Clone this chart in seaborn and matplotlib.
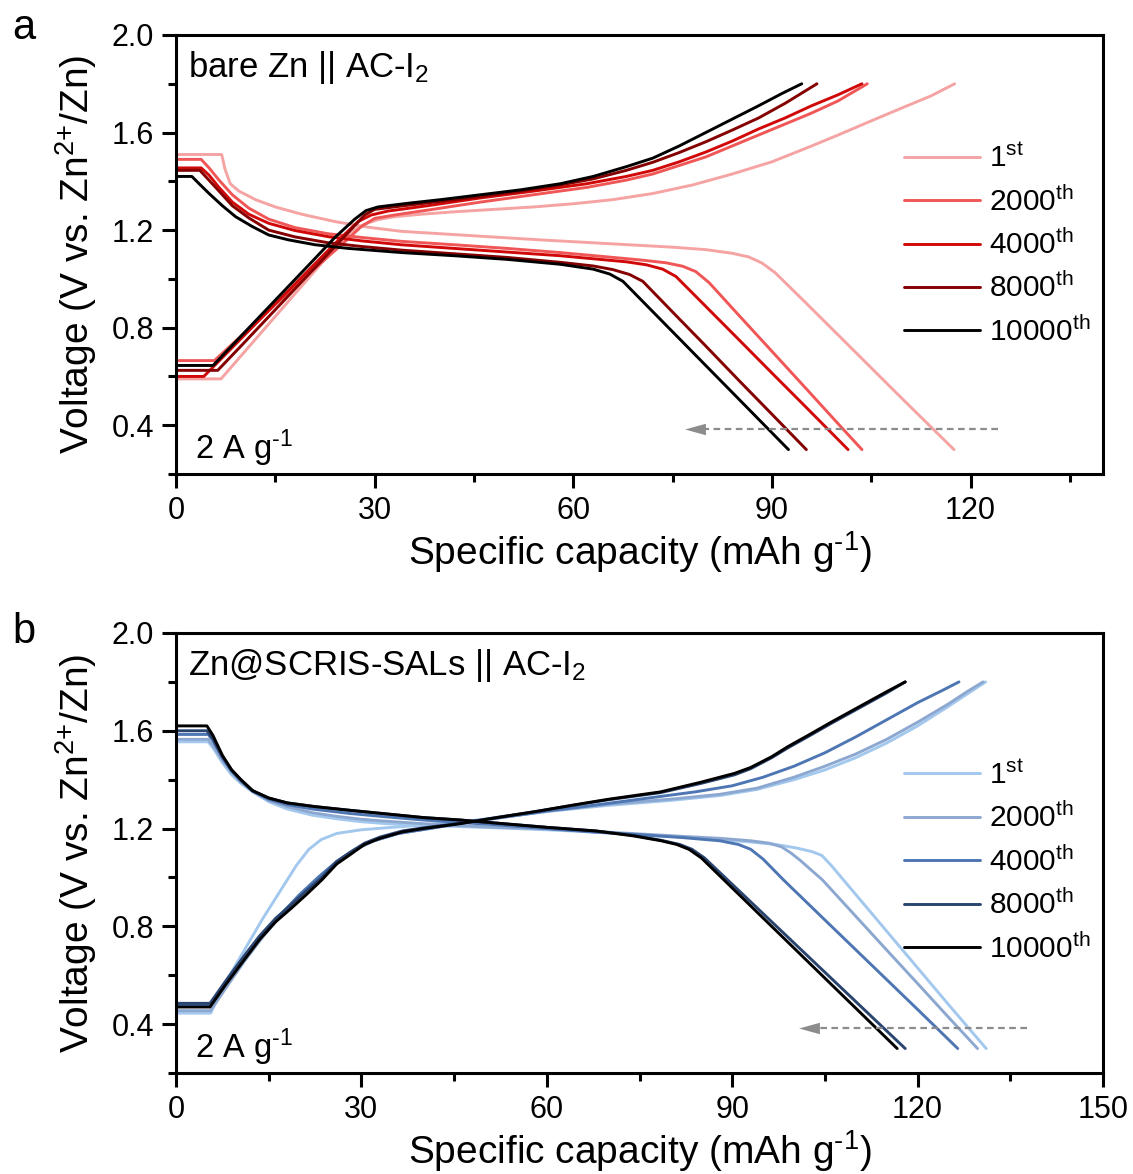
import numpy as np
import pandas as pd
import seaborn as sns
import matplotlib.pyplot as plt
from matplotlib.lines import Line2D
from matplotlib.ticker import MultipleLocator

# ---------------- data: bare Zn || AC-I2 (panel a) ----------------
CYCLES = ["1st", "2000th", "4000th", "8000th", "10000th"]
CYCLE_LABELS = ["1$^{\\rm st}$", "2000$^{\\rm th}$", "4000$^{\\rm th}$", "8000$^{\\rm th}$", "10000$^{\\rm th}$"]

bare_1st_chg_q = [0, 6.8, 10, 14, 18, 22, 26, 28.5, 30.5, 33, 37, 42, 48, 54, 60, 66, 72, 78, 84, 90, 96, 100, 105, 110, 114, 117.6]
bare_1st_chg_v = [0.59, 0.59, 0.69, 0.815, 0.94, 1.065, 1.185, 1.225, 1.243, 1.255, 1.265, 1.275, 1.285, 1.295, 1.308, 1.325, 1.35, 1.385, 1.43, 1.48, 1.545, 1.59, 1.648, 1.705, 1.75, 1.80]
bare_1st_dis_q = [0, 6.9, 7.4, 8.2, 9.5, 12, 15, 19, 24, 29, 34, 40, 46, 55, 65, 75, 80, 84, 86.5, 88.5, 90.5, 95, 100, 105, 110, 117.5]
bare_1st_dis_v = [1.51, 1.51, 1.45, 1.39, 1.36, 1.325, 1.295, 1.265, 1.235, 1.212, 1.195, 1.185, 1.175, 1.16, 1.145, 1.13, 1.12, 1.105, 1.09, 1.065, 1.025, 0.905, 0.77, 0.635, 0.50, 0.30]

bare_2000_chg_q = [0, 5.8, 10, 15, 20, 25, 28, 30, 33, 38, 46, 54, 62, 68, 72, 76, 80, 84, 88, 92, 96, 100, 104.4]
bare_2000_chg_v = [0.665, 0.665, 0.77, 0.895, 1.02, 1.14, 1.215, 1.248, 1.262, 1.282, 1.315, 1.345, 1.375, 1.405, 1.43, 1.465, 1.50, 1.545, 1.59, 1.635, 1.68, 1.73, 1.80]
bare_2000_dis_q = [0, 3.8, 5, 6.5, 8.5, 11, 14, 18, 23, 28, 34, 42, 50, 58, 64, 70, 74, 76.5, 78.5, 80.5, 85, 90, 95, 100, 103.6]
bare_2000_dis_v = [1.49, 1.49, 1.455, 1.405, 1.345, 1.29, 1.245, 1.21, 1.185, 1.17, 1.154, 1.14, 1.125, 1.108, 1.093, 1.078, 1.066, 1.052, 1.03, 0.985, 0.851, 0.703, 0.555, 0.406, 0.30]

bare_4000_chg_q = [0, 4.2, 8, 12, 16, 20, 24, 27.5, 29.5, 32, 38, 46, 54, 62, 68, 72, 76, 80, 84, 88, 92, 96, 100, 103.6]
bare_4000_chg_v = [0.60, 0.60, 0.705, 0.815, 0.925, 1.035, 1.145, 1.235, 1.262, 1.278, 1.30, 1.332, 1.36, 1.39, 1.42, 1.445, 1.48, 1.52, 1.565, 1.615, 1.66, 1.71, 1.755, 1.80]
bare_4000_dis_q = [0, 3.8, 5, 6.5, 8.5, 11, 14, 18, 23, 28, 34, 42, 50, 58, 64, 68, 71, 73.5, 75.5, 78, 85, 90, 95, 101.5]
bare_4000_dis_v = [1.455, 1.455, 1.425, 1.375, 1.315, 1.265, 1.228, 1.198, 1.173, 1.156, 1.14, 1.125, 1.11, 1.095, 1.08, 1.07, 1.058, 1.04, 1.01, 0.942, 0.751, 0.614, 0.478, 0.30]

bare_8000_chg_q = [0, 6.3, 10, 14, 18, 22, 26, 28.5, 30, 35, 40, 46, 52, 58, 63, 68, 72, 76, 80, 84, 88, 92, 96.8]
bare_8000_chg_v = [0.625, 0.625, 0.73, 0.845, 0.96, 1.075, 1.19, 1.262, 1.285, 1.302, 1.318, 1.338, 1.36, 1.385, 1.41, 1.445, 1.478, 1.518, 1.562, 1.61, 1.66, 1.72, 1.80]
bare_8000_dis_q = [0, 3.6, 4.8, 6.5, 8.5, 11, 14, 18, 23, 28, 34, 42, 50, 58, 63, 66, 68.5, 70.5, 75, 80, 85, 90, 95.2]
bare_8000_dis_v = [1.445, 1.445, 1.41, 1.36, 1.30, 1.25, 1.20, 1.172, 1.148, 1.133, 1.118, 1.103, 1.088, 1.068, 1.053, 1.038, 1.018, 0.99, 0.864, 0.725, 0.584, 0.445, 0.30]

bare_10000_chg_q = [0, 5.6, 9, 13, 17, 21, 24, 27, 28.7, 30.5, 35, 40, 46, 52, 58, 63, 68, 72, 76, 80, 84, 88, 91.5, 94.5]
bare_10000_chg_v = [0.645, 0.645, 0.742, 0.856, 0.97, 1.084, 1.17, 1.245, 1.28, 1.295, 1.31, 1.325, 1.345, 1.365, 1.39, 1.42, 1.46, 1.495, 1.545, 1.60, 1.655, 1.71, 1.76, 1.80]
bare_10000_dis_q = [0, 2.4, 3.5, 5, 7, 9, 11.5, 14, 17, 21, 26, 34, 42, 50, 58, 63, 65.5, 67.5, 70, 75, 80, 85, 92.5]
bare_10000_dis_v = [1.42, 1.42, 1.39, 1.35, 1.30, 1.255, 1.215, 1.18, 1.16, 1.14, 1.125, 1.108, 1.095, 1.08, 1.06, 1.04, 1.02, 0.99, 0.921, 0.783, 0.645, 0.507, 0.30]

# ---------------- data: Zn@SCRIS-SALs || AC-I2 (panel b) ----------------
sals_1st_chg_q = [0, 5.6, 8, 11, 14, 17, 19.5, 21.5, 23.5, 26, 30, 35, 40, 47, 54, 60, 70, 80, 88, 94, 100, 105, 110, 115, 120, 125, 128, 131]
sals_1st_chg_v = [0.445, 0.445, 0.57, 0.70, 0.83, 0.95, 1.05, 1.115, 1.155, 1.18, 1.195, 1.205, 1.215, 1.23, 1.25, 1.27, 1.295, 1.315, 1.335, 1.36, 1.40, 1.44, 1.49, 1.55, 1.62, 1.70, 1.75, 1.80]
sals_1st_dis_q = [0, 5.2, 6, 7.5, 9, 10.5, 12.4, 15, 18, 22, 26, 30, 34, 40, 46, 52, 60, 68, 75, 82, 88, 93, 97, 100.5, 103, 104.5, 106, 110, 115, 120, 125, 131.1]
sals_1st_dis_v = [1.555, 1.555, 1.53, 1.47, 1.42, 1.385, 1.35, 1.31, 1.28, 1.255, 1.24, 1.228, 1.22, 1.213, 1.208, 1.203, 1.195, 1.185, 1.175, 1.165, 1.155, 1.145, 1.135, 1.12, 1.105, 1.09, 1.05, 0.93, 0.78, 0.63, 0.48, 0.30]

sals_2000_chg_q = [0, 5.6, 8, 11, 14, 17, 20, 23, 26, 29, 32, 36, 41, 47, 54, 60, 70, 80, 88, 94, 100, 105, 110, 115, 120, 125, 128, 130.6]
sals_2000_chg_v = [0.455, 0.455, 0.545, 0.655, 0.755, 0.845, 0.925, 1.0, 1.065, 1.115, 1.15, 1.18, 1.20, 1.225, 1.25, 1.27, 1.30, 1.32, 1.34, 1.365, 1.41, 1.455, 1.505, 1.565, 1.635, 1.71, 1.76, 1.80]
sals_2000_dis_q = [0, 5.2, 6, 7.5, 9, 10.5, 12.4, 15, 18, 22, 26, 30, 34, 40, 46, 52, 60, 68, 75, 82, 88, 93, 96, 98, 99.5, 101, 104.6, 110, 115, 120, 125, 129.7]
sals_2000_dis_v = [1.565, 1.565, 1.54, 1.48, 1.43, 1.39, 1.355, 1.315, 1.29, 1.265, 1.25, 1.238, 1.23, 1.22, 1.212, 1.205, 1.198, 1.188, 1.178, 1.168, 1.16, 1.15, 1.14, 1.125, 1.10, 1.07, 0.99, 0.841, 0.703, 0.566, 0.428, 0.30]

sals_4000_chg_q = [0, 5.6, 8, 11, 14, 17, 20, 23, 26, 29, 32, 36, 41, 47, 54, 60, 66, 72, 78, 84, 90, 95, 100, 105, 110, 115, 120, 124, 126.7]
sals_4000_chg_v = [0.48, 0.48, 0.565, 0.67, 0.765, 0.85, 0.93, 1.0, 1.065, 1.115, 1.15, 1.18, 1.20, 1.225, 1.25, 1.272, 1.29, 1.31, 1.33, 1.35, 1.375, 1.41, 1.455, 1.51, 1.575, 1.645, 1.715, 1.765, 1.80]
sals_4000_dis_q = [0, 5.2, 6, 7.5, 9, 10.5, 12.4, 15, 18, 22, 28, 34, 40, 46, 52, 60, 68, 75, 82, 88, 91, 93, 95, 98.3, 105, 110, 115, 120, 126.5]
sals_4000_dis_v = [1.585, 1.585, 1.56, 1.49, 1.435, 1.395, 1.352, 1.32, 1.298, 1.28, 1.262, 1.248, 1.235, 1.225, 1.215, 1.20, 1.185, 1.175, 1.163, 1.15, 1.135, 1.115, 1.075, 0.99, 0.826, 0.704, 0.582, 0.46, 0.30]

sals_8000_chg_q = [0, 5.5, 8, 11.2, 13.5, 16.1, 18.7, 21.1, 23.6, 26, 28, 30.5, 33, 36.6, 40, 46, 52, 58.3, 64, 70, 78.4, 85, 90.4, 93, 96.4, 99, 102.4, 106, 111.4, 115, 118]
sals_8000_chg_v = [0.485, 0.485, 0.575, 0.685, 0.76, 0.832, 0.89, 0.945, 1.0, 1.065, 1.1, 1.14, 1.165, 1.19, 1.203, 1.222, 1.246, 1.27, 1.294, 1.318, 1.347, 1.385, 1.42, 1.445, 1.49, 1.53, 1.578, 1.63, 1.705, 1.755, 1.80]
sals_8000_dis_q = [0, 5, 6, 7.5, 9, 10.5, 12.4, 15, 18, 22.4, 28, 34, 40, 46, 52, 60, 68, 74, 78.5, 81.5, 83.5, 85.5, 90, 95, 100, 105, 110, 118]
sals_8000_dis_v = [1.60, 1.60, 1.565, 1.495, 1.44, 1.40, 1.355, 1.325, 1.305, 1.29, 1.275, 1.26, 1.245, 1.235, 1.222, 1.205, 1.19, 1.172, 1.152, 1.135, 1.115, 1.08, 0.972, 0.852, 0.732, 0.612, 0.492, 0.30]

sals_10000_chg_q = [0, 5.5, 8, 11.2, 13.5, 16.1, 18.7, 21.1, 23.6, 26, 28, 30.5, 33, 36.6, 40, 46, 52, 58.3, 64, 70, 78.4, 85, 90.4, 93, 96.4, 99, 102.4, 106, 111.4, 115, 118]
sals_10000_chg_v = [0.47, 0.47, 0.56, 0.668, 0.745, 0.818, 0.875, 0.93, 0.99, 1.055, 1.09, 1.135, 1.16, 1.186, 1.20, 1.22, 1.245, 1.27, 1.295, 1.32, 1.35, 1.39, 1.426, 1.45, 1.494, 1.535, 1.583, 1.635, 1.71, 1.76, 1.80]
sals_10000_dis_q = [0, 5, 6, 7.5, 9, 10.5, 12.4, 15, 18, 22.4, 28, 34, 40, 46, 52, 60, 68, 74, 78.5, 81, 83, 85, 90, 95, 100, 105, 110, 116.7]
sals_10000_dis_v = [1.62, 1.62, 1.58, 1.50, 1.44, 1.40, 1.355, 1.325, 1.305, 1.29, 1.275, 1.26, 1.245, 1.235, 1.222, 1.205, 1.19, 1.17, 1.15, 1.135, 1.115, 1.08, 0.957, 0.834, 0.711, 0.588, 0.465, 0.30]

# axis ticks / labels
Y_TICKS = [0.4, 0.8, 1.2, 1.6, 2.0]
Y_TICK_LABELS = ["0.4", "0.8", "1.2", "1.6", "2.0"]
A_X_TICKS = [0, 30, 60, 90, 120]
B_X_TICKS = [0, 30, 60, 90, 120, 150]

BARE_COLORS = ["#F5A3A3", "#F05656", "#D00808", "#850000", "#000000"]
SALS_COLORS = ["#A3C8EE", "#8DA8D0", "#4D76B3", "#2A4470", "#000000"]


def build_frame(curves):
    rows = []
    for cycle, (cq, cv, dq, dv) in zip(CYCLES, curves):
        for branch, q, v in (("charge", cq, cv), ("discharge", dq, dv)):
            for qi, vi in zip(q, v):
                rows.append((cycle, branch, qi, vi))
    return pd.DataFrame(rows, columns=["cycle", "branch", "capacity", "voltage"])


bare_df = build_frame([
    (bare_1st_chg_q, bare_1st_chg_v, bare_1st_dis_q, bare_1st_dis_v),
    (bare_2000_chg_q, bare_2000_chg_v, bare_2000_dis_q, bare_2000_dis_v),
    (bare_4000_chg_q, bare_4000_chg_v, bare_4000_dis_q, bare_4000_dis_v),
    (bare_8000_chg_q, bare_8000_chg_v, bare_8000_dis_q, bare_8000_dis_v),
    (bare_10000_chg_q, bare_10000_chg_v, bare_10000_dis_q, bare_10000_dis_v),
])
sals_df = build_frame([
    (sals_1st_chg_q, sals_1st_chg_v, sals_1st_dis_q, sals_1st_dis_v),
    (sals_2000_chg_q, sals_2000_chg_v, sals_2000_dis_q, sals_2000_dis_v),
    (sals_4000_chg_q, sals_4000_chg_v, sals_4000_dis_q, sals_4000_dis_v),
    (sals_8000_chg_q, sals_8000_chg_v, sals_8000_dis_q, sals_8000_dis_v),
    (sals_10000_chg_q, sals_10000_chg_v, sals_10000_dis_q, sals_10000_dis_v),
])

# ---------------- style ----------------
sns.set_theme(style="ticks")
plt.rcParams["font.family"] = ["Liberation Sans", "DejaVu Sans"]
plt.rcParams["mathtext.fontset"] = "custom"
plt.rcParams["mathtext.rm"] = "Liberation Sans"
plt.rcParams["mathtext.it"] = "Liberation Sans:italic"
plt.rcParams["mathtext.bf"] = "Liberation Sans:bold"
plt.rcParams["mathtext.default"] = "regular"
for key in ("text.color", "axes.labelcolor", "xtick.color", "ytick.color", "axes.edgecolor"):
    plt.rcParams[key] = "black"

W, H = 1133, 1174
fig = plt.figure(figsize=(W / 100, H / 100), dpi=100)
left, right = 176, 1103
ax_a = fig.add_axes([left / W, 1 - 474 / H, (right - left) / W, 439 / H])
ax_b = fig.add_axes([left / W, 1 - 1073 / H, (right - left) / W, 440 / H])

LW = 2.1
UNIT_X = "Specific capacity (mAh g$^{\\text{-1}}$)"
UNIT_Y = "Voltage (V vs. Zn$^{\\text{2+}}$/Zn)"
RATE = "2 A g$^{\\text{-1}}$"


def draw_panel(ax, df, colors, xmax, xticks, title, legend_top, arrow_x0, arrow_x1, letter, letter_y):
    sns.lineplot(data=df, x="capacity", y="voltage", hue="cycle", units="branch",
                 estimator=None, sort=False, palette=colors, hue_order=CYCLES,
                 linewidth=LW, legend=False, ax=ax)
    ax.set_xlim(0, xmax)
    ax.set_ylim(0.2, 2.0)
    ax.set_xticks(xticks)
    ax.set_xticklabels([str(t) for t in xticks])
    ax.xaxis.set_minor_locator(MultipleLocator(15))
    ax.set_yticks(Y_TICKS)
    ax.set_yticklabels(Y_TICK_LABELS)
    ax.yaxis.set_minor_locator(MultipleLocator(0.2))
    for s in ax.spines.values():
        s.set_linewidth(2.2)
        s.set_color("black")
        s.set_visible(True)
    ax.tick_params(which="major", direction="out", length=10, width=2.2,
                   labelsize=22, pad=6, colors="black")
    ax.tick_params(which="minor", direction="out", length=6, width=2.2)
    ax.tick_params(top=False, right=False, which="both")
    ax.set_xlabel(UNIT_X, fontsize=28, labelpad=2)
    ax.set_ylabel(UNIT_Y, fontsize=28)
    ax.yaxis.set_label_coords(-0.083, 0.5)
    ax.text(0.013, 0.905, title, transform=ax.transAxes, fontsize=25,
            ha="left", va="baseline")
    ax.text(0.02, 0.035, RATE, transform=ax.transAxes, fontsize=23.5,
            ha="left", va="baseline")

    handles = [Line2D([], [], color=c, lw=LW) for c in colors]
    ax.legend(handles, CYCLE_LABELS, loc="upper left",
              bbox_to_anchor=(0.785, legend_top), frameon=False, fontsize=21.5,
              handlelength=2.55, handletextpad=0.3, labelspacing=0.43,
              borderpad=0, borderaxespad=0)

    # dashed guide arrow toward lower capacity
    ax.plot([arrow_x0, arrow_x1 + 1.5], [0.385, 0.385], color="#8C8C8C",
            lw=1.6, ls=(0, (3, 2)))
    ax.plot([arrow_x1], [0.385], color="#8C8C8C", lw=0,
            marker=[(-1, 0), (1, 0.55), (1, -0.55), (-1, 0)], ms=15,
            markeredgewidth=0, markerfacecolor="#8C8C8C")

    fig.text(12 / W, 1 - letter_y / H, letter, fontsize=30, ha="left", va="baseline")


draw_panel(ax_a, bare_df, BARE_COLORS, 140, A_X_TICKS, "bare Zn || AC-I$_2$",
           0.752, 124.2, 78.4, "a", 39)
draw_panel(ax_b, sals_df, SALS_COLORS, 150, B_X_TICKS, "Zn@SCRIS-SALs || AC-I$_2$",
           0.71, 137.7, 102.5, "b", 643)

fig.savefig("out.png", dpi=100)
